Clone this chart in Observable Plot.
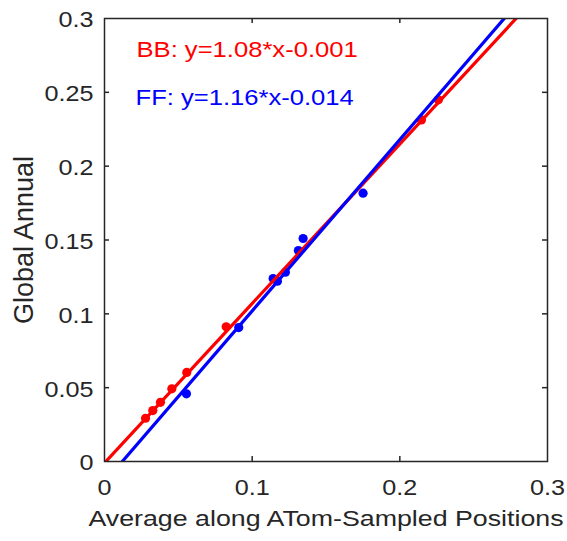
<!DOCTYPE html>
<html><head><meta charset="utf-8">
<script src="https://cdn.jsdelivr.net/npm/d3@7"></script>
<script src="https://cdn.jsdelivr.net/npm/@observablehq/plot@0.6"></script>
<style>body{margin:0;background:#fff} svg{display:block}</style>
</head><body><div id="chart"></div>
<script>
const seriesNames = ["BB", "FF"];
const seriesColors = ["#ff0000", "#0000ff"];
const slopes = [1.08, 1.16];
const intercepts = [-0.001, -0.014];
const bbX = [0.0278, 0.0327, 0.0379, 0.0456, 0.0557, 0.0824, 0.2146, 0.2261];
const bbY = [0.0293, 0.0345, 0.0401, 0.0492, 0.0603, 0.0912, 0.2313, 0.2449];
const ffX = [0.0555, 0.0909, 0.1142, 0.1171, 0.1225, 0.1313, 0.1345, 0.1751];
const ffY = [0.0458, 0.0907, 0.1239, 0.1221, 0.1282, 0.1429, 0.1510, 0.1817];
const xTicks = [0, 0.1, 0.2, 0.3];
const yTicks = [0, 0.05, 0.1, 0.15, 0.2, 0.25, 0.3];
const xLabel = "Average along ATom-Sampled Positions";
const yLabel = "Global Annual";

const axisColor = "#262626";
const font = "'Liberation Sans', Arial, Helvetica, sans-serif";
const fs = 21.5;

const bbPts = bbX.map((x, i) => ({x, y: bbY[i]}));
const ffPts = ffX.map((x, i) => ({x, y: ffY[i]}));
const fitLines = seriesNames.map((s, i) => [0, 0.3].map(x => ({x, y: slopes[i] * x + intercepts[i], s})));
const eqLabels = seriesNames.map((s, i) =>
  `${s}: y=${slopes[i].toFixed(2)}*x${intercepts[i] < 0 ? "-" : "+"}${Math.abs(intercepts[i]).toFixed(3)}`);

const svg = Plot.plot({
  width: 567, height: 541,
  marginLeft: 104, marginRight: 20, marginTop: 18, marginBottom: 80,
  style: {fontFamily: font, background: "#fff"},
  x: {domain: [0, 0.3], axis: null},
  y: {domain: [0, 0.3], axis: null},
  marks: [
    Plot.dot(ffPts, {x: "x", y: "y", r: 4.6, fill: seriesColors[1], stroke: "none"}),
    Plot.dot(bbPts, {x: "x", y: "y", r: 4.6, fill: seriesColors[0], stroke: "none"}),
    Plot.line(fitLines[0], {x: "x", y: "y", stroke: seriesColors[0], strokeWidth: 3.2, clip: true}),
    Plot.line(fitLines[1], {x: "x", y: "y", stroke: seriesColors[1], strokeWidth: 3.2, clip: true}),
    Plot.frame({stroke: axisColor, strokeWidth: 1.5}),
    Plot.tickX(xTicks.slice(1, -1), {x: d => d, insetTop: 438, stroke: axisColor, strokeWidth: 1.5}),
    Plot.tickX(xTicks.slice(1, -1), {x: d => d, insetBottom: 438, stroke: axisColor, strokeWidth: 1.5}),
    Plot.tickY(yTicks.slice(1, -1), {y: d => d, insetRight: 438, stroke: axisColor, strokeWidth: 1.5}),
    Plot.tickY(yTicks.slice(1, -1), {y: d => d, insetLeft: 438, stroke: axisColor, strokeWidth: 1.5}),
    Plot.text(xTicks, {x: d => d, frameAnchor: "bottom", dy: 26.5, lineAnchor: "middle", textAnchor: "middle", text: d => String(d), fill: axisColor, fontSize: fs}),
    Plot.text(yTicks, {y: d => d, frameAnchor: "left", dx: -11, dy: 2, lineAnchor: "middle", textAnchor: "end", text: d => String(d), fill: axisColor, fontSize: fs}),
    Plot.text([xLabel], {frameAnchor: "bottom", dy: 58, lineAnchor: "middle", textAnchor: "middle", text: d => d, fill: axisColor, fontSize: fs}),
    Plot.text([yLabel], {frameAnchor: "left", dx: -80.5, rotate: -90, lineAnchor: "middle", textAnchor: "middle", text: d => d, fill: axisColor, fontSize: 27}),
    Plot.text([eqLabels[0]], {frameAnchor: "top-left", dx: 32, dy: 32, lineAnchor: "middle", textAnchor: "start", text: d => d, fill: seriesColors[0], fontSize: fs}),
    Plot.text([eqLabels[1]], {frameAnchor: "top-left", dx: 31, dy: 79.5, lineAnchor: "middle", textAnchor: "start", text: d => d, fill: seriesColors[1], fontSize: fs})
  ]
});
document.getElementById("chart").append(svg);
const stretch = t => {
  const s = t.textContent;
  if (s === yLabel) return 1;
  if (s === xLabel) return 1.245;
  if (eqLabels.includes(s)) return 1.19;
  return 1.17;
};
svg.querySelectorAll("text").forEach(t => {
  const k = stretch(t);
  if (k === 1) return;
  const len = t.getComputedTextLength();
  t.setAttribute("textLength", (len * k).toFixed(1));
  t.setAttribute("lengthAdjust", "spacingAndGlyphs");
});
</script>
</body></html>
